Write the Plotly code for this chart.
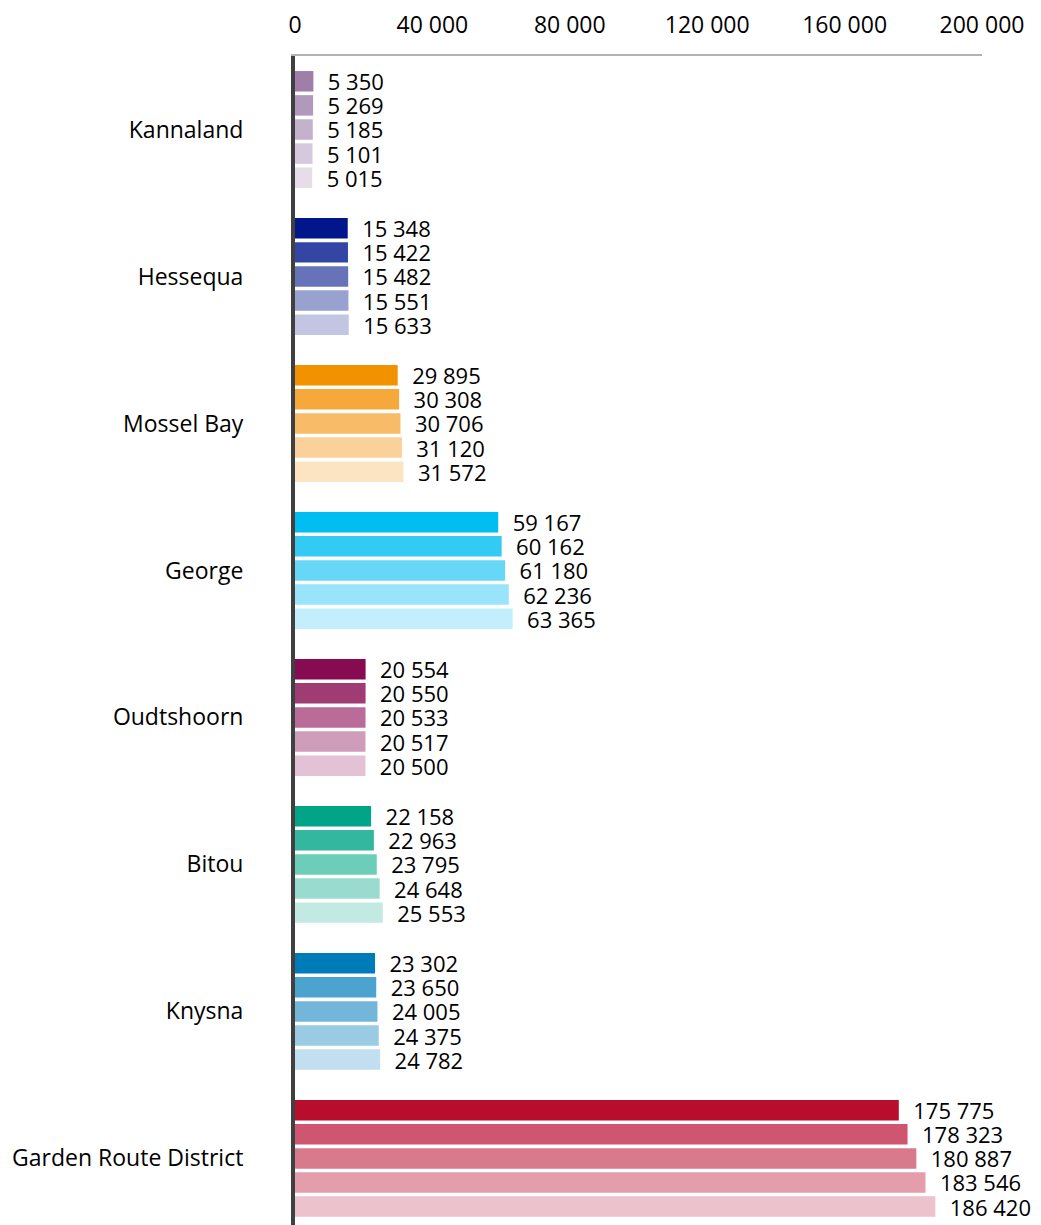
import plotly.graph_objects as go

categories = ["Kannaland", "Hessequa", "Mossel Bay", "George", "Oudtshoorn",
              "Bitou", "Knysna", "Garden Route District"]

series_1 = [5350, 15348, 29895, 59167, 20554, 22158, 23302, 175775]
series_2 = [5269, 15422, 30308, 60162, 20550, 22963, 23650, 178323]
series_3 = [5185, 15482, 30706, 61180, 20533, 23795, 24005, 180887]
series_4 = [5101, 15551, 31120, 62236, 20517, 24648, 24375, 183546]
series_5 = [5015, 15633, 31572, 63365, 20500, 25553, 24782, 186420]

tick_vals = [0, 40000, 80000, 120000, 160000, 200000]
tick_text = ["0", "40 000", "80 000", "120 000", "160 000", "200 000"]

# colour shades per category (darkest -> lightest)
shades = {
    "Kannaland": ["#9f7fa9", "#b199bb", "#c4b1cc", "#d6c9dd", "#e6dde9"],
    "Hessequa": ["#00168a", "#3346a4", "#6673b8", "#99a1d0", "#c2c6e3"],
    "Mossel Bay": ["#f39200", "#f6a83a", "#f8bc68", "#fad19a", "#fce3c2"],
    "George": ["#00bef2", "#33caf4", "#66d7f7", "#99e4fa", "#c2effb"],
    "Oudtshoorn": ["#870b51", "#a03c74", "#b86c97", "#cf9dba", "#e3c2d6"],
    "Bitou": ["#00a587", "#33b79f", "#6ccdb9", "#99dbcf", "#c2eae2"],
    "Knysna": ["#007bba", "#4da3cf", "#73b6d9", "#99cbe3", "#c2dff0"],
    "Garden Route District": ["#b90d2d", "#cf5670", "#d87a8c", "#e39dab", "#ecc2cc"],
}

all_series = [series_1, series_2, series_3, series_4, series_5]
FONT = "Open Sans"

def fmt(v):
    return "\u00a0\u00a0" + f"{v:,}".replace(",", " ")

fig = go.Figure()
for i, s in enumerate(all_series):
    fig.add_trace(go.Bar(
        y=categories, x=s, orientation="h",
        marker=dict(color=[shades[c][i] for c in categories], line=dict(width=0)),
        text=[fmt(v) for v in s], textposition="outside", constraintext="none",
        textfont=dict(size=22, color="black", family=FONT),
        cliponaxis=False, showlegend=False, hoverinfo="skip",
    ))

fig.update_layout(
    width=1033, height=1218,
    margin=dict(l=287, r=59, t=48, b=0),
    barmode="group", bargap=0.18, bargroupgap=0.15,
    plot_bgcolor="white", paper_bgcolor="white",
    font=dict(family=FONT, size=23, color="black"),
    uniformtext=dict(mode=False),
)
fig.update_xaxes(
    side="top", range=[0, 200000], tickvals=tick_vals, ticktext=tick_text,
    showgrid=False, zeroline=False, showline=True, linecolor="#b3b3b3", linewidth=2,
    ticks="", ticklabelstandoff=12, tickfont=dict(size=23), automargin=False,
)
fig.update_yaxes(
    range=[7.46, -0.5], showgrid=False, zeroline=False,
    showline=True, linecolor="#404040", linewidth=4,
    ticks="", ticklabelstandoff=43, tickfont=dict(size=23), automargin=False,
)

fig.write_html("out.html")
